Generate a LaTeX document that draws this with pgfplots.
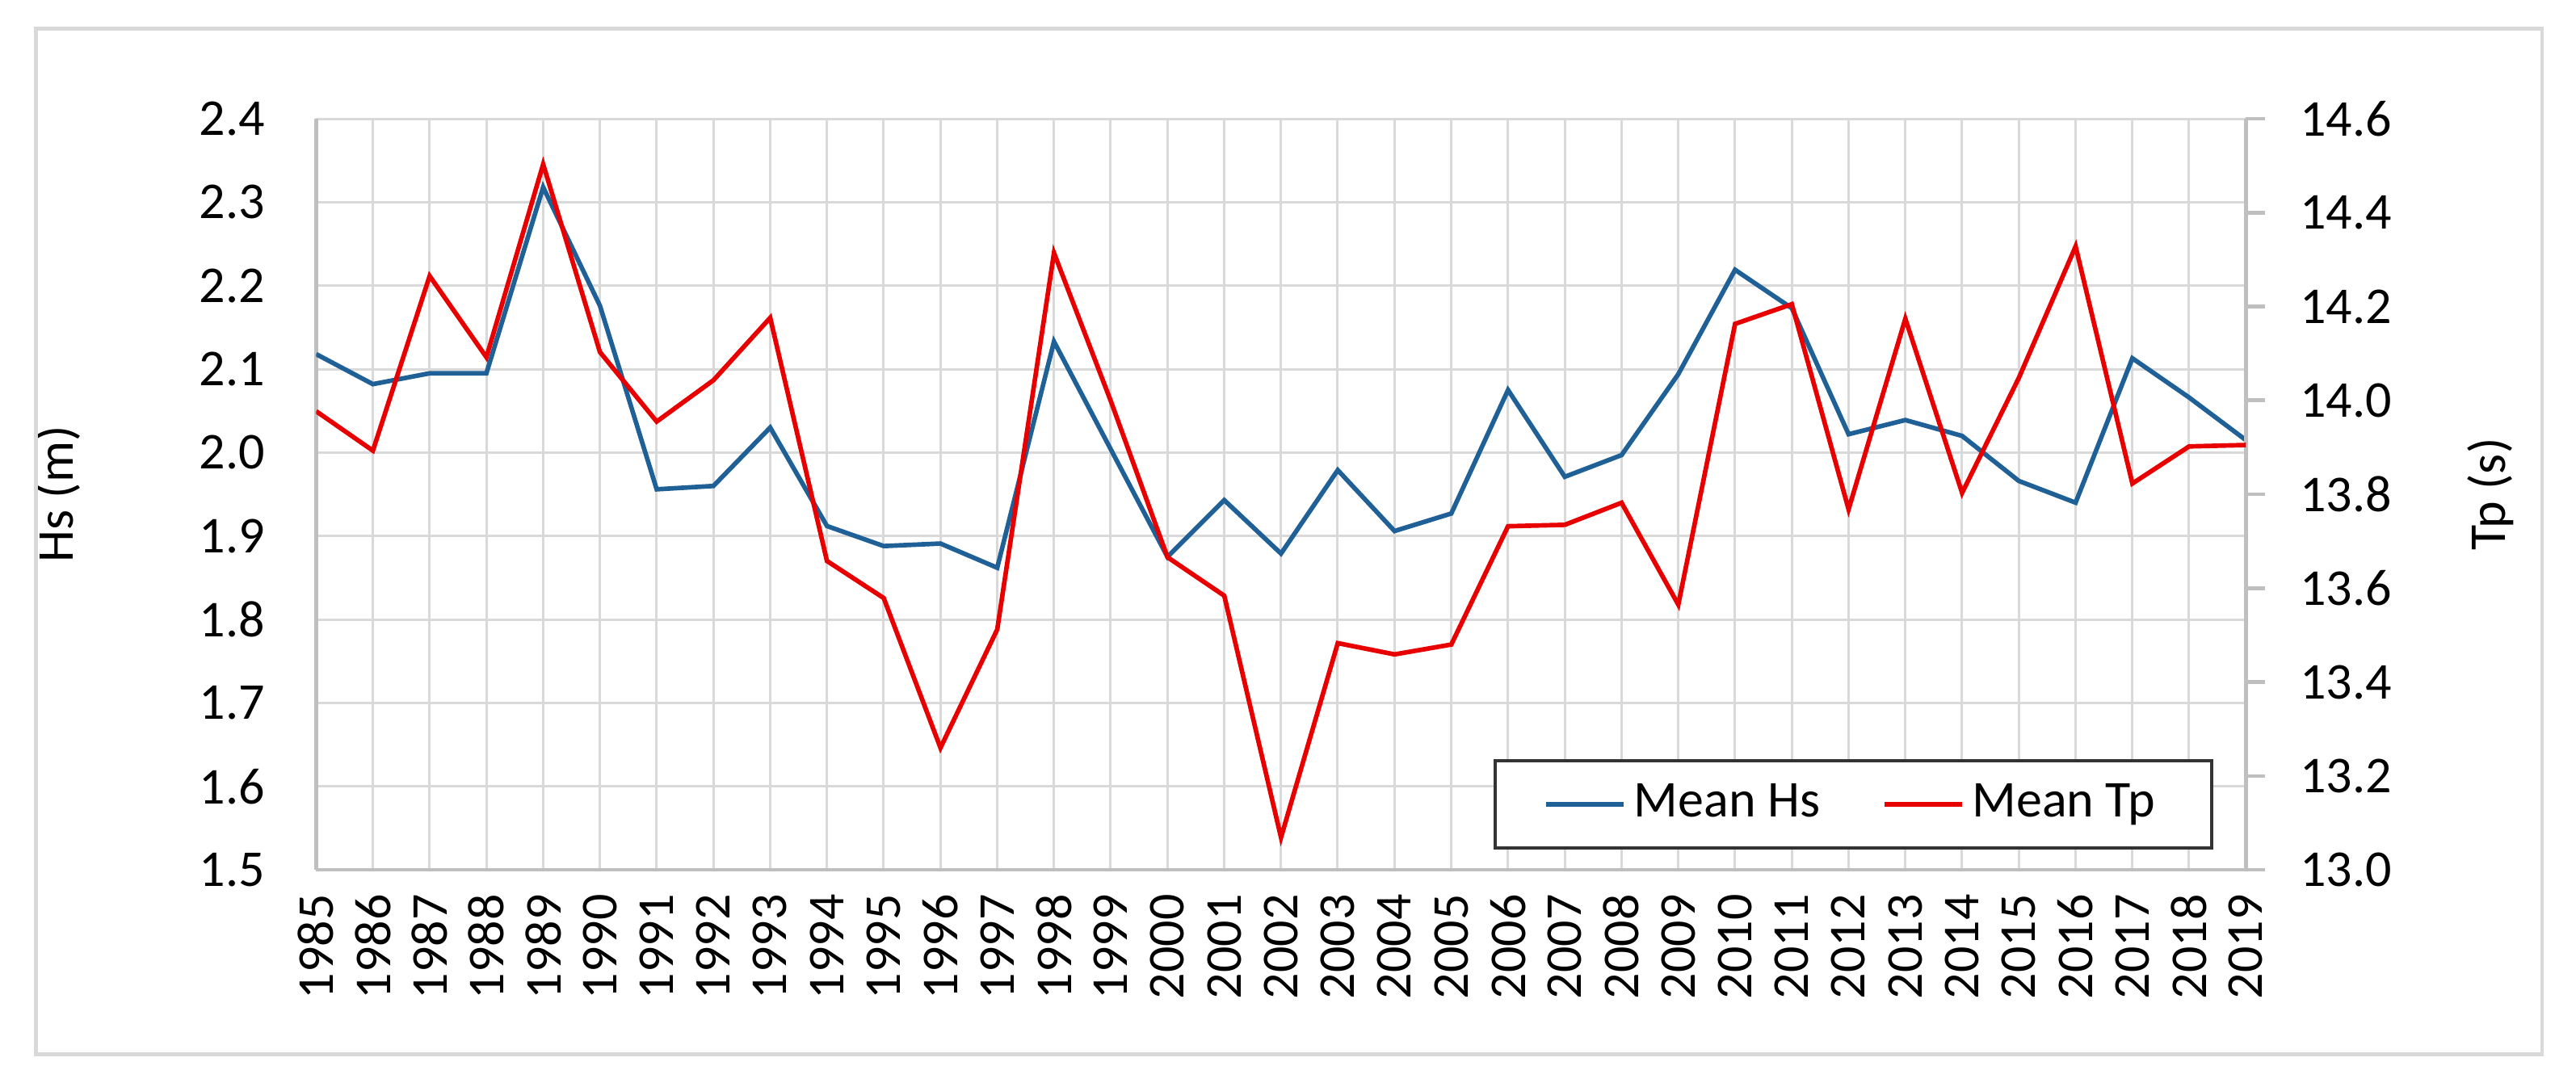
\documentclass[border=0pt]{standalone}
\usepackage{fontspec}
\setmainfont{Carlito}
\usepackage{pgfplots}
\pgfplotsset{compat=1.18}
\definecolor{hsblue}{RGB}{31,96,150}
\definecolor{tpred}{RGB}{232,0,0}
\definecolor{gridgray}{RGB}{217,217,217}
\definecolor{axgray}{RGB}{191,191,191}
\newcommand{\cf}{\fontsize{9.6pt}{11.5pt}\selectfont}
\begin{document}
\begin{tikzpicture}
\begin{axis}[
  at={(0,0)}, anchor=south west,
  scale only axis, width=358.3pt, height=139.5pt,
  xmin=1985, xmax=2019, ymin=1.5, ymax=2.4,
  xtick={1985,...,2019},
  ytick={1.5,1.6,...,2.41},
  axis x line*=bottom, axis y line*=left,
  axis line style={-, draw=axgray, line width=0.7pt},
  xmajorgrids, ymajorgrids,
  grid style={draw=gridgray, line width=0.45pt},
  major tick length=0pt,
  tick label style={font=\cf},
  label style={font=\cf},
  /pgf/number format/assume math mode=true,
  yticklabel style={/pgf/number format/fixed, /pgf/number format/fixed zerofill, /pgf/number format/precision=1, xshift=-6pt},
  xticklabel style={rotate=90, anchor=east, /pgf/number format/1000 sep={}, yshift=0pt, xshift=-1pt},
  ylabel={Hs (m)},
  ylabel style={at={(axis description cs:-0.134,0.5)}, anchor=center, rotate=0},
]
\addplot[hsblue, line width=0.85pt] table {
1985 2.118
1986 2.082
1987 2.095
1988 2.095
1989 2.318
1990 2.176
1991 1.956
1992 1.960
1993 2.030
1994 1.912
1995 1.888
1996 1.891
1997 1.862
1998 2.133
1999 2.004
2000 1.875
2001 1.943
2002 1.879
2003 1.979
2004 1.906
2005 1.927
2006 2.075
2007 1.971
2008 1.997
2009 2.094
2010 2.219
2011 2.173
2012 2.022
2013 2.039
2014 2.020
2015 1.966
2016 1.940
2017 2.113
2018 2.066
2019 2.015
};
\end{axis}
\begin{axis}[
  at={(0,0)}, anchor=south west,
  scale only axis, width=358.3pt, height=139.5pt,
  xmin=1985, xmax=2019, ymin=13.0, ymax=14.6,
  axis x line=none,
  axis y line*=right,
  axis line style={-, draw=axgray, line width=0.7pt},
  ytick={13.0,13.2,...,14.61},
  tick style={draw=axgray, line width=0.7pt},
  tick align=outside, major tick length=3.5pt,
  tick label style={font=\cf},
  label style={font=\cf},
  /pgf/number format/assume math mode=true,
  yticklabel style={/pgf/number format/fixed, /pgf/number format/fixed zerofill, /pgf/number format/precision=1, xshift=3pt},
  ylabel={Tp (s)},
  ylabel style={at={(axis description cs:1.1267,0.5)}, anchor=center},
  legend columns=2,
  legend cell align=left,
  legend image code/.code={\draw[#1] (0pt,0pt) -- (14.4pt,0pt);},
  legend style={at={(0.983,0.027)}, anchor=south east, font=\cf,
    draw=black!80, line width=0.6pt, fill=white,
    inner xsep=9pt, inner ysep=2.8pt,
    nodes={inner sep=1.5pt},
    /tikz/every even column/.append style={column sep=10pt}},
]
\addlegendimage{hsblue, line width=0.85pt}
\addlegendentry{Mean Hs}
\addplot[tpred, line width=0.85pt] table {
1985 13.977
1986 13.893
1987 14.265
1988 14.092
1989 14.503
1990 14.103
1991 13.955
1992 14.043
1993 14.176
1994 13.658
1995 13.579
1996 13.260
1997 13.512
1998 14.314
1999 13.999
2000 13.666
2001 13.584
2002 13.069
2003 13.483
2004 13.459
2005 13.480
2006 13.732
2007 13.735
2008 13.782
2009 13.565
2010 14.163
2011 14.205
2012 13.768
2013 14.174
2014 13.803
2015 14.048
2016 14.328
2017 13.823
2018 13.902
2019 13.905
};
\addlegendentry{Mean Tp}
\end{axis}
\draw[gridgray, line width=0.7pt] (-52.0pt,-34.2pt) rectangle (413.3pt,156.2pt);
\pgfresetboundingbox
\path[use as bounding box] (-58.7pt,-40.2pt) rectangle (419.6pt,161.55pt);
\end{tikzpicture}
\end{document}
